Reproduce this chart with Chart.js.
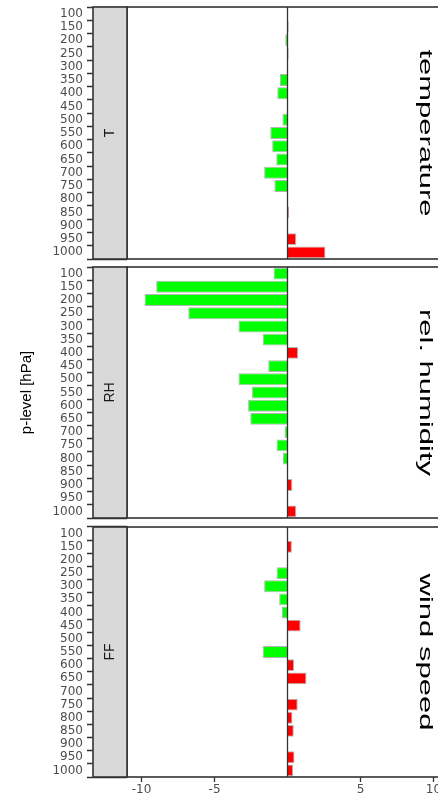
<!DOCTYPE html>
<html>
<head>
<meta charset="utf-8">
<title>Diferenças por nível de pressão</title>
<script src="https://cdn.jsdelivr.net/npm/chart.js@4.4.1/dist/chart.umd.min.js"></script>
<style>
  html, body { margin: 0; padding: 0; background: #fff; overflow: hidden; width: 438px; height: 797px; }
  canvas { position: absolute; left: 0; }
</style>
</head>
<body>
<canvas id="painel-t" width="452" height="262" style="top:0px"></canvas>
<canvas id="painel-rh" width="452" height="260" style="top:262px"></canvas>
<canvas id="painel-ff" width="452" height="275" style="top:522px"></canvas>
<script>
//..........DADOS..........
const niveis = ['100', '150', '200', '250', '300', '350', '400', '450', '500', '550',
                '600', '650', '700', '750', '800', '850', '900', '950', '1000'];

// temperatura (T)
const difTemp = [0, 0.08, -0.15, 0.08, 0.03, -0.52, -0.7, 0, -0.35, -1.18,
                 -1.05, -0.77, -1.6, -0.9, 0, 0.1, 0, 0.6, 2.6];
// umidade relativa (RH)
const difRH = [-0.95, -9.0, -9.8, -6.8, -3.36, -1.7, 0.73, -1.32, -3.36, -2.43,
               -2.7, -2.55, -0.2, -0.75, -0.32, 0.03, 0.33, 0.04, 0.6];
// velocidade do vento (FF)
const difFF = [-0.05, 0.3, 0, -0.75, -1.6, -0.57, -0.39, 0.9, -0.05, -1.7,
               0.45, 1.3, 0.02, 0.7, 0.34, 0.43, 0, 0.48, 0.39];

const xTicks = [-10, -5, 5, 10];
const xMin = -11, xMax = 11;

const fonteTicks = { family: '"DejaVu Sans", sans-serif', size: 12 };

// Desenha linha do zero, borda, faixa cinza e os rótulos
const painelPlugin = {
    id: 'painel',
    afterDatasetsDraw(chart, args, opts) {
        const ctx = chart.ctx;
        const a = chart.chartArea;
        const meioY = (a.top + a.bottom) / 2;
        const x0 = chart.scales.x.getPixelForValue(0);

        ctx.save();
        // linha do zero
        ctx.strokeStyle = '#333';
        ctx.lineWidth = 1.3;
        ctx.beginPath();
        ctx.moveTo(x0, a.top);
        ctx.lineTo(x0, a.bottom);
        ctx.stroke();

        // borda do painel
        ctx.lineWidth = 1.6;
        ctx.strokeRect(a.left, a.top, a.right - a.left, a.bottom - a.top);

        // faixa (strip) à esquerda
        ctx.fillStyle = '#d9d9d9';
        ctx.fillRect(a.left - 34, a.top, 34, a.bottom - a.top);
        ctx.strokeRect(a.left - 34, a.top, 34, a.bottom - a.top);
        ctx.restore();

        // texto da faixa
        ctx.save();
        ctx.translate(a.left - 17, meioY);
        ctx.rotate(-Math.PI / 2);
        ctx.fillStyle = '#1a1a1a';
        ctx.font = '14px "Liberation Sans", Arial, sans-serif';
        ctx.textAlign = 'center';
        ctx.textBaseline = 'middle';
        ctx.fillText(opts.faixa, 0, 0);
        ctx.restore();

        // nome grande à direita
        ctx.save();
        ctx.translate(425, meioY);
        ctx.rotate(Math.PI / 2);
        ctx.scale(1, 0.6);
        ctx.fillStyle = '#000';
        ctx.font = '31px "Liberation Sans", Arial, sans-serif';
        ctx.textAlign = 'center';
        ctx.textBaseline = 'middle';
        ctx.fillText(opts.nome, 0, 0);
        ctx.restore();

        // título do eixo y (só no painel do meio)
        if (opts.tituloY) {
            ctx.save();
            ctx.translate(27, meioY);
            ctx.rotate(-Math.PI / 2);
            ctx.fillStyle = '#000';
            ctx.font = '15px "Liberation Sans", Arial, sans-serif';
            ctx.textAlign = 'center';
            ctx.textBaseline = 'middle';
            ctx.fillText(opts.tituloY, 0, 0);
            ctx.restore();
        }
    }
};

function criarPainel(id, dados, faixa, nome, opcoes) {
    const ctx = document.getElementById(id).getContext('2d');
    return new Chart(ctx, {
        type: 'bar',
        data: {
            labels: niveis,
            datasets: [{
                data: dados,
                backgroundColor: c => (c.raw < 0 ? '#00ff00' : '#ff0000'),
                borderColor: 'rgba(150, 150, 150, 0.7)',
                borderWidth: 1,
                borderSkipped: 'start',
                barPercentage: 0.9,
                categoryPercentage: 1
            }]
        },
        plugins: [painelPlugin],
        options: {
            indexAxis: 'y',
            responsive: false,
            animation: false,
            layout: { padding: opcoes.padding },
            plugins: {
                legend: { display: false },
                tooltip: { enabled: false },
                painel: { faixa: faixa, nome: nome, tituloY: opcoes.tituloY }
            },
            scales: {
                x: {
                    type: 'linear',
                    min: xMin,
                    max: xMax,
                    display: opcoes.mostrarX,
                    afterBuildTicks: s => { s.ticks = xTicks.map(v => ({ value: v })); },
                    afterFit: s => {
                        s.height = opcoes.mostrarX ? 20 : 0;
                        s.paddingLeft = 0;
                        s.paddingRight = 0;
                    },
                    grid: { drawOnChartArea: false, tickLength: 5, tickColor: '#333', tickWidth: 1.3 },
                    border: { display: false },
                    ticks: { color: '#4d4d4d', font: fonteTicks, padding: 1, maxRotation: 0 }
                },
                y: {
                    afterFit: s => {
                        s.width = 127;
                        s.paddingTop = 0;
                        s.paddingBottom = 0;
                    },
                    grid: { drawOnChartArea: false, tickLength: 40, tickColor: '#333', tickWidth: 1.3 },
                    border: { display: false },
                    ticks: { color: '#4d4d4d', font: fonteTicks, padding: 4, autoSkip: false }
                }
            }
        }
    });
}

criarPainel('painel-t', difTemp, 'T', 'temperature',
    { padding: { top: 7, bottom: 3, right: 4 }, mostrarX: false });
criarPainel('painel-rh', difRH, 'RH', 'rel. humidity',
    { padding: { top: 5, bottom: 4, right: 4 }, mostrarX: false, tituloY: 'p-level [hPa]' });
criarPainel('painel-ff', difFF, 'FF', 'wind speed',
    { padding: { top: 5, bottom: 0, right: 4 }, mostrarX: true });
</script>
</body>
</html>
